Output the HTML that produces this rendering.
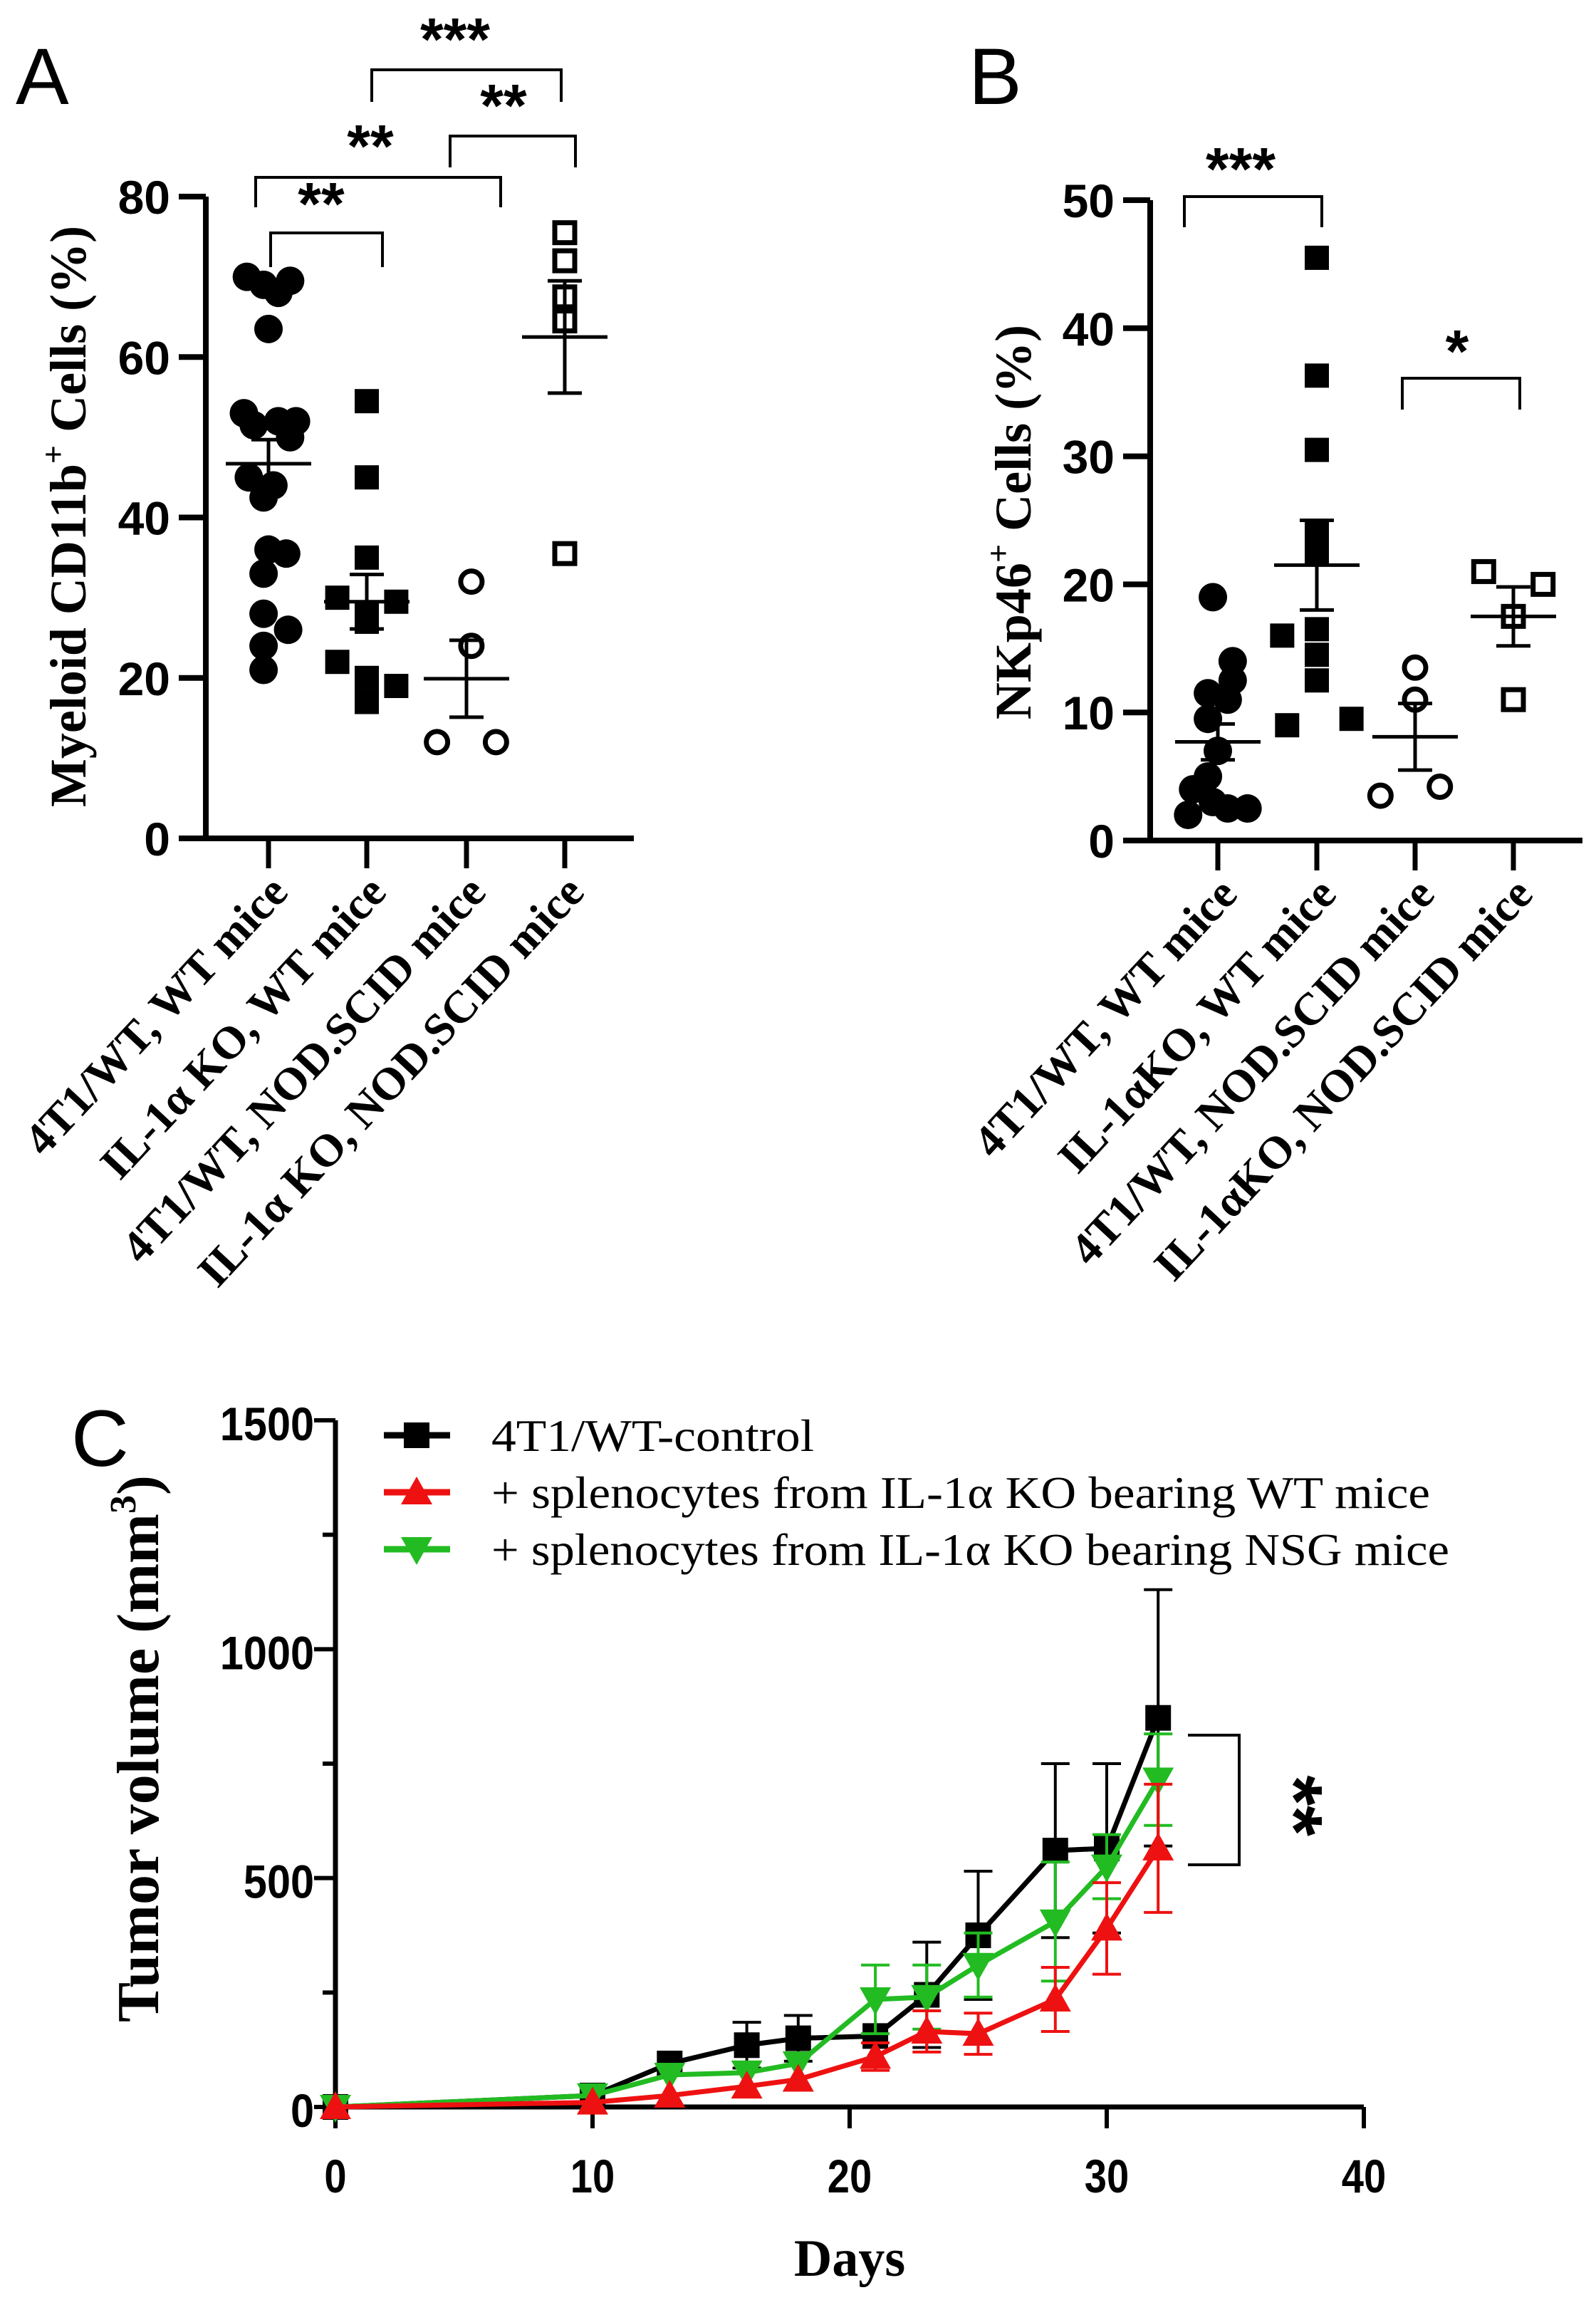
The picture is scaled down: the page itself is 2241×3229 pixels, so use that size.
<!DOCTYPE html>
<html><head><meta charset="utf-8"><style>
html,body{margin:0;padding:0;background:#fff}
svg{display:block}
.tk{font-family:"Liberation Sans",sans-serif;font-weight:bold;font-size:66px}
.sr{font-family:"Liberation Serif",serif;font-weight:bold}
</style></head><body>
<svg id="fig" width="2241" height="3229" viewBox="0 0 2241 3229" xmlns="http://www.w3.org/2000/svg">
<text x="22" y="146" font-family="Liberation Sans" font-size="112">A</text>
<text x="1360" y="146" font-family="Liberation Sans" font-size="112">B</text>
<text x="100" y="2058" font-family="Liberation Sans" font-size="112">C</text>
<g id="gA"></g>
<g id="gB"></g>
<g id="gC"></g>
</svg>
<script>
// Panel A data
const catsA = ["4T1/WT, WT mice","IL-1\u03b1 KO, WT mice","4T1/WT, NOD.SCID mice","IL-1\u03b1 KO, NOD.SCID mice"];
const ptsA = [[70,69.5,69,68,63.5,53,52,52,51.5,50,45,44,42.5,36,35.5,33,28,26,24,21],[54.5,45,35,30,29.5,28,27,22,20,19,17],[32,24,12,12],[75.5,72,67.5,64.5,35.5]];
const meanA = [46.7,29.5,19.9,62.5];
const semA = [3.0,3.4,4.8,7.0];
const ticksA = [0,20,40,60,80];
// Panel B data
const catsB = ["4T1/WT, WT mice","IL-1\u03b1KO, WT mice","4T1/WT, NOD.SCID mice","IL-1\u03b1KO, NOD.SCID mice"];
const ptsB = [[19,14,12.5,11.5,11,9.5,7,5,4,3,2.5,2.5,2],[45.5,36.3,30.5,24,22.5,16,16.5,14.5,12.5,9,9.5],[13.5,11,3.5,4.2],[21,20,17.5,11]];
const meanB = [7.7,21.5,8.1,17.5];
const semB = [1.4,3.5,2.6,2.3];
const ticksB = [0,10,20,30,40,50];
// Panel C data
const days = [0,10,13,16,18,21,23,25,28,30,32];
const blackV = [0,25,95,135,150,155,245,375,560,565,850];
const blackE = [0,0,0,50,50,0,115,140,190,185,280];
const redV = [0,10,25,45,60,110,165,160,235,390,565];
const redE = [0,0,0,0,0,30,45,45,70,100,140];
const greenV = [0,25,70,75,95,235,240,310,405,525,715];
const greenE = [0,0,0,0,0,75,70,70,130,70,100];
const ticksCx = [0,10,20,30,40];
const ticksCy = [0,500,1000,1500];
const legendC = ["4T1/WT-control","+ splenocytes from IL-1\u03b1 KO bearing WT mice","+ splenocytes from IL-1\u03b1 KO bearing NSG mice"];

const NS="http://www.w3.org/2000/svg";
function mk(p,t,a,txt){const e=document.createElementNS(NS,t);for(const k in a)e.setAttribute(k,a[k]);if(txt!==undefined)e.textContent=txt;p.appendChild(e);return e;}
const jit=[[-0.22,0.22,-0.05,0.1,0,-0.25,0.1,0.28,-0.15,0.22,-0.2,0.05,-0.05,0,0.18,-0.05,-0.05,0.2,-0.05,-0.05],[0,0,0,-0.3,0.3,0,0,-0.3,0,0.3,0],[0.05,0.05,-0.3,0.3],[0,0,0,0,0]];
const jitB=[[-0.05,0.15,0.15,-0.1,0.1,-0.1,0,-0.1,-0.25,-0.05,0.1,0.3,-0.3],[0,0,0,0,0,-0.35,0,0,0,-0.3,0.35],[0,0,-0.35,0.25],[-0.3,0.3,0,0]];

function dot(g,type,cx,cy,name){
  let e;
  if(type===0){e=mk(g,'circle',{cx:cx,cy:cy,r:20,fill:'#000'});}
  else if(type===1){e=mk(g,'rect',{x:cx-17,y:cy-17,width:34,height:34,fill:'#000'});}
  else if(type===2){e=mk(g,'circle',{cx:cx,cy:cy,r:15,fill:'none',stroke:'#000','stroke-width':7});}
  else {e=mk(g,'rect',{x:cx-14,y:cy-14,width:28,height:28,fill:'none',stroke:'#000','stroke-width':7});}
  
  
}

function scatterPanel(g,o){
  const ys=v=>o.y0-(v/o.max)*(o.y0-o.yTop);
  const xs=i=>o.tx[i];
  const dx=o.tx[1]-o.tx[0];
  let ax=mk(g,'path',{d:`M${o.ax} ${ys(o.max)} V${o.y0} M${o.ax-38} ${o.y0} H${o.xEnd}`,stroke:'#000','stroke-width':8,fill:'none'});
  
  
  o.ticks.forEach(t=>{
    mk(g,'line',{x1:o.ax-38,x2:o.ax,y1:ys(t),y2:ys(t),stroke:'#000','stroke-width':8});
    const tl=mk(g,'text',{x:o.ax-50,y:ys(t)+24,'text-anchor':'end',class:'tk'},String(t));
    
    
  });
  o.cats.forEach((c,i)=>{
    mk(g,'line',{x1:xs(i),x2:xs(i),y1:o.y0,y2:o.y0+42,stroke:'#000','stroke-width':7});
    const x=xs(i)+30,y=o.y0+78;
    const tl=mk(g,'text',{x:x,y:y,'text-anchor':'end',class:'sr','font-size':64,transform:`rotate(-47 ${x} ${y})`},c);
    
    
  });
  o.pts.forEach((arr,i)=>{
    arr.forEach((v,j)=>dot(g,i,xs(i)+o.jit[i][j]*dx,ys(v),'data-point'));
    const m=o.mean[i],s=o.sem[i];
    const eb=mk(g,'path',{d:`M${xs(i)-60} ${ys(m)} H${xs(i)+60} M${xs(i)} ${ys(m+s)} V${ys(m-s)} M${xs(i)-24} ${ys(m+s)} H${xs(i)+24} M${xs(i)-24} ${ys(m-s)} H${xs(i)+24}`,stroke:'#000','stroke-width':5,fill:'none'});
    
    
  });
  const yt=mk(g,'text',{x:0,y:0,'text-anchor':'middle',class:'sr','font-size':72,transform:`translate(${o.tx0},${o.ty0}) rotate(-90)`});
  
  
  mk(yt,'tspan',{},o.title[0]);
  mk(yt,'tspan',{dy:-30,'font-size':46},'+');
  mk(yt,'tspan',{dy:30},o.title[1]);
  o.brackets.forEach(b=>{
    const br=mk(g,'path',{d:`M${b[0]} ${b[3]} V${b[2]} H${b[1]} V${b[3]}`,stroke:'#000','stroke-width':4,fill:'none'});
    
    
    const st=mk(g,'text',{x:b[4],y:b[5]+12,'text-anchor':'middle','font-family':'Liberation Sans','font-weight':'bold','font-size':84},b[6]);
    
    
  });
}
scatterPanel(document.getElementById('gA'),{ax:289,y0:1177,yTop:276,max:80,xEnd:890,tx:[377,515,655,793],ticks:ticksA,cats:catsA,pts:ptsA,mean:meanA,sem:semA,jit:jit,
 title:['Myeloid CD11b',' Cells (%)'],tx0:120,ty0:725,
 brackets:[[380,537,327,375,451,303,'**'],[359,703,249,291,520,222,'**'],[632,808,191,235,707,165,'**'],[522,788,98,143,639,72,'***']]});
scatterPanel(document.getElementById('gB'),{ax:1615,y0:1180,yTop:281,max:50,xEnd:2222,tx:[1710,1849,1987,2125],ticks:ticksB,cats:catsB,pts:ptsB,mean:meanB,sem:semB,jit:jitB,
 title:['NKp46',' Cells (%)'],tx0:1447,ty0:733,
 brackets:[[1663,1856,276,319,1742,254,'***'],[1969,2134,531,575,2046,510,'*']]});

// Panel C
(function(){
  const g=document.getElementById('gC');
  const X0=471,X1=1915,Y0=2958,Y1=1994;
  const xs=d=>X0+d/40*(X1-X0), ys=v=>Y0-v/1500*(Y0-Y1);
  const ax=mk(g,'path',{d:`M${X0} ${Y1} V${Y0} H${X1}`,stroke:'#000','stroke-width':7,fill:'none'});
  
  
  for(let v=0;v<=1500;v+=250){mk(g,'line',{x1:X0-(v%500?18:30),x2:X0,y1:ys(v),y2:ys(v),stroke:'#000','stroke-width':6});}
  const lx=X0-30;
  ticksCy.forEach(t=>{const e=mk(g,'text',{x:0,y:ys(t)+28,'text-anchor':'end',class:'tk','font-size':78,transform:`translate(${lx} 0) scale(0.9 1)`},String(t));
    
    });
  ticksCx.forEach(t=>{mk(g,'line',{x1:xs(t),x2:xs(t),y1:Y0,y2:Y0+30,stroke:'#000','stroke-width':6});
    const e=mk(g,'text',{x:0,y:Y0+120,'text-anchor':'middle',class:'tk','font-size':72,transform:`translate(${xs(t)} 0) scale(0.85 1)`},String(t));
    
    });
  const xt=mk(g,'text',{x:(X0+X1)/2,y:3195,'text-anchor':'middle',class:'sr','font-size':74},'Days');
  
  
  const yt=mk(g,'text',{x:0,y:0,'text-anchor':'middle',class:'sr','font-size':84,transform:`translate(222,2455) rotate(-90)`});
  
  
  mk(yt,'tspan',{},'Tumor volume (mm');mk(yt,'tspan',{dy:-32,'font-size':52},'3');mk(yt,'tspan',{dy:32},')');
  const series=[[blackV,blackE,'#000',0,'series-control'],[greenV,greenE,'#22bb22',2,'series-nsg'],[redV,redE,'#ee1111',1,'series-wt']];
  function marker(p,type,cx,cy,col){
    if(type===0)return mk(p,'rect',{x:cx-18,y:cy-18,width:36,height:36,fill:col});
    if(type===1)return mk(p,'path',{d:`M${cx} ${cy-22} L${cx+22} ${cy+17} L${cx-22} ${cy+17}Z`,fill:col});
    return mk(p,'path',{d:`M${cx} ${cy+22} L${cx+22} ${cy-17} L${cx-22} ${cy-17}Z`,fill:col});
  }
  series.forEach(s=>{
    const sg=mk(g,'g',{});
    
    
    days.forEach((d,i)=>{ if(s[1][i]>0){const x=xs(d),a=ys(s[0][i]+s[1][i]),b=ys(s[0][i]-s[1][i]);
      mk(sg,'path',{d:`M${x} ${a} V${b} M${x-20} ${a} H${x+20} M${x-20} ${b} H${x+20}`,stroke:s[2],'stroke-width':4,fill:'none'});}});
    mk(sg,'polyline',{points:days.map((d,i)=>xs(d)+','+ys(s[0][i])).join(' '),fill:'none',stroke:s[2],'stroke-width':7});
    days.forEach((d,i)=>{const m=marker(sg,s[3],xs(d),ys(s[0][i]),s[2]);
      
      });
  });
  const lc=[['#000',0],['#ee1111',1],['#22bb22',2]], lw=[453,1318,1345];
  legendC.forEach((t,i)=>{
    const y=2015+i*80;
    const lg=mk(g,'g',{});
    
    
    mk(lg,'line',{x1:539,x2:632,y1:y,y2:y,stroke:lc[i][0],'stroke-width':9});
    marker(lg,lc[i][1],585,y,lc[i][0]);
    mk(lg,'text',{x:690,y:y+22,'font-family':'Liberation Serif','font-size':64,textLength:lw[i],lengthAdjust:'spacingAndGlyphs'},t);
  });
  const br=mk(g,'path',{d:`M1668 2436 H1740 V2618 H1668`,stroke:'#000','stroke-width':4,fill:'none'});
  
  
  const st=mk(g,'text',{x:1815,y:2570,'text-anchor':'middle','font-family':'Liberation Sans','font-weight':'bold','font-size':110,transform:'rotate(90 1815 2535)'},'**');
  
  
})();
</script>
</body></html>
